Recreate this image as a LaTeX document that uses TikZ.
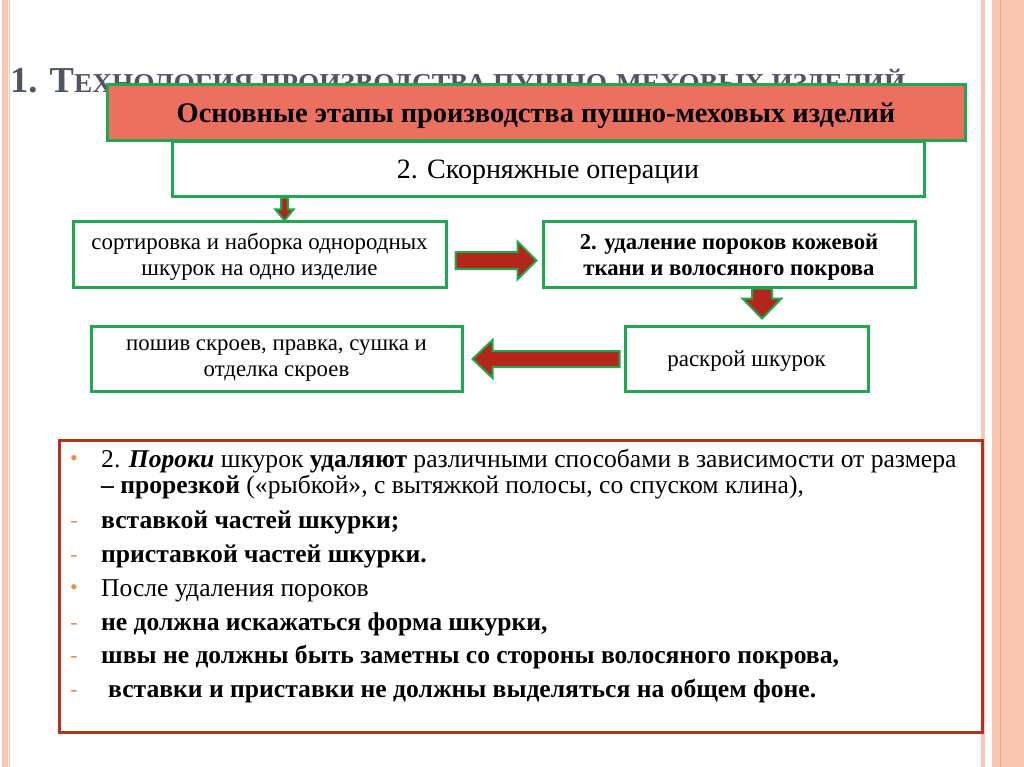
\documentclass[tikz,border=0pt]{standalone}
\usepackage{fontspec}
\setmainfont{Liberation Serif}
\usetikzlibrary{calc}
\definecolor{grn}{HTML}{1FA84F}
\definecolor{boxred}{HTML}{EC7060}
\definecolor{arrred}{HTML}{B3261A}
\definecolor{framered}{HTML}{B3321E}
\definecolor{stripe}{HTML}{FAC6B2}
\definecolor{stripedk}{HTML}{F2A487}
\definecolor{titlegrey}{HTML}{4F5563}
\definecolor{bul}{HTML}{EE8A50}
\newcommand\blockarr[5]{%
  \coordinate (bkS) at (#1);
  \coordinate (bkE) at (#2);
  \coordinate (bkB) at ($(bkE)!#5!(bkS)$);
  \fill[arrred, draw=grn, line width=2pt, line join=miter]
    ($(bkS)!#3!90:(bkE)$) -- ($(bkB)!#3!90:(bkE)$) -- ($(bkB)!#4!90:(bkE)$) --
    (bkE) -- ($(bkB)!#4!-90:(bkE)$) -- ($(bkB)!#3!-90:(bkE)$) --
    ($(bkS)!#3!-90:(bkE)$) -- cycle;
}
\tikzset{
  stepbox/.style={draw=grn, line width=3pt, fill=white, rectangle, align=center, inner sep=2pt, text depth=-1pt},
  txtline/.style={anchor=base west, inner sep=0pt, font=\fontsize{25.6}{30}\selectfont},
  bulletdot/.style={anchor=center, inner sep=0pt, text=bul, font=\fontsize{22}{22}\selectfont},
}
\begin{document}
\begin{tikzpicture}[x=1pt,y=-1pt]
\useasboundingbox (0,0) rectangle (1024,767);
\fill[white] (0,0) rectangle (1024,767);
% side stripes
\fill[stripe] (2,0) rectangle (8,767);
\fill[stripedk!60] (9,0) rectangle (10.2,767);
\fill[stripe] (981,0) rectangle (985,767);
\fill[stripe] (992,0) rectangle (1024,767);
\fill[stripedk] (999.5,0) rectangle (1001,767);
% title
\node[anchor=base west, inner sep=0pt, text=titlegrey] (title) at (10,93)
  {\resizebox{895pt}{!}{\bfseries{\fontsize{32}{32}\selectfont 1. Т}{\fontsize{24}{24}\selectfont ЕХНОЛОГИЯ ПРОИЗВОДСТВА ПУШНО-МЕХОВЫХ ИЗДЕЛИЙ}}};
% header boxes
\node[stepbox, minimum width=752pt, minimum height=55pt, font=\fontsize{28}{28}\selectfont] (ops) at (548,169) {2. Скорняжные операции};
\node[stepbox, fill=boxred, minimum width=858pt, minimum height=56pt, font=\bfseries\fontsize{28.4}{28.4}\selectfont] (main) at (536,113) {Основные этапы производства пушно-меховых изделий};
% step boxes
\node[stepbox, minimum width=373pt, minimum height=65pt, font=\fontsize{22.9}{26}\selectfont] (sort) at (259.5,254.5) {сортировка и наборка однородных\\шкурок на одно изделие};
\node[stepbox, minimum width=372pt, minimum height=65pt, font=\bfseries\fontsize{22.7}{26}\selectfont] (defect) at (729,254.5) {2. удаление пороков кожевой\\ткани и волосяного покрова};
\node[stepbox, minimum width=243pt, minimum height=65pt, font=\fontsize{23}{26}\selectfont] (cut) at (746.5,358.5) {раскрой шкурок};
\node[stepbox, minimum width=371pt, minimum height=65pt, font=\fontsize{22.8}{26}\selectfont] (sew) at (276.5,358.5) {пошив скроев, правка, сушка и\\отделка скроев};
% block arrows
\blockarr{ops.south -| 284.5,0}{sort.north -| 284.5,0}{3.5pt}{9pt}{11pt}
\blockarr{$(sort.east)+(8,6)$}{$(defect.west)+(-5,6)$}{8.5pt}{19pt}{19pt}
\blockarr{defect.south -| 762,0}{$(cut.north -| 762,0)+(0,-6)$}{10pt}{19.5pt}{20pt}
\blockarr{$(cut.east)+(-250,0.5)$}{$(sew.east)+(9,0.5)$}{8pt}{19pt}{20pt}
% bottom text frame
\node[draw=framered, line width=2.5pt, minimum width=923pt, minimum height=292pt, inner sep=0pt] (frame) at (521,586.5) {};
\node[bulletdot] (b1) at (74,461) {•};
\node[txtline] (l1) at (101,467) {2. \textbf{\textit{Пороки}} шкурок \textbf{удаляют} различными способами в зависимости от размера};
\node[txtline] (l2) at (101,493) {\textbf{– прорезкой} («рыбкой», с вытяжкой полосы, со спуском клина),};
\node[bulletdot] (b3) at (74,524) {-};
\node[txtline] (l3) at (101,528) {\textbf{вставкой частей шкурки;}};
\node[bulletdot] (b4) at (74,558) {-};
\node[txtline] (l4) at (101,562) {\textbf{приставкой частей шкурки.}};
\node[bulletdot] (b5) at (74,590) {•};
\node[txtline] (l5) at (101,596) {После удаления пороков};
\node[bulletdot] (b6) at (74,626) {-};
\node[txtline] (l6) at (101,630) {\textbf{не должна искажаться форма шкурки,}};
\node[bulletdot] (b7) at (74,659) {-};
\node[txtline] (l7) at (101,663) {\textbf{швы не должны быть заметны со стороны волосяного покрова,}};
\node[bulletdot] (b8) at (74,693) {-};
\node[txtline] (l8) at (108,697) {\textbf{вставки и приставки не должны выделяться на общем фоне.}};
\end{tikzpicture}
\end{document}
